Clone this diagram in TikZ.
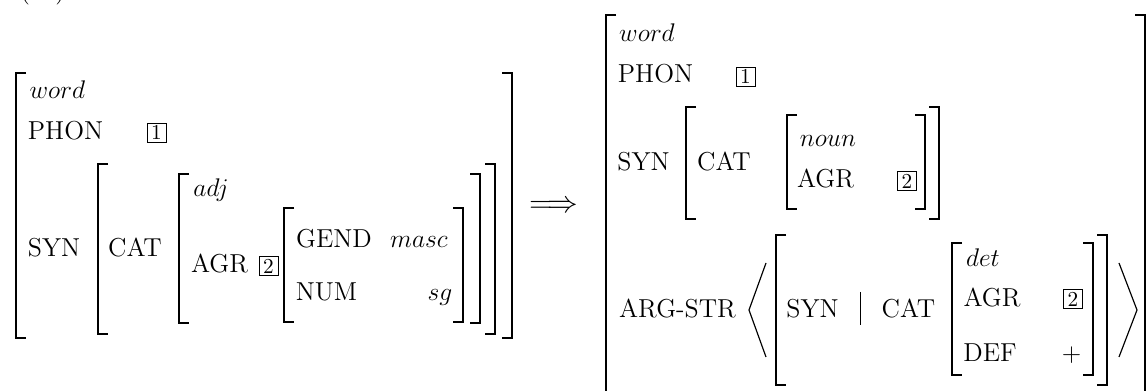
\documentclass[tikz,border=0pt]{standalone}
\usepackage{fontspec}
\usepackage{tikz}
\tikzset{
  t/.style={inner sep=0pt, outer sep=0pt, anchor=base, font=\fontsize{12.2}{14}\selectfont},
  ti/.style={t, font=\fontsize{12.8}{15}\selectfont},
  tag/.style={draw, line width=0.4pt, minimum width=8.9pt, minimum height=8.9pt, inner sep=0pt, font=\fontsize{10}{12}\selectfont},
  brk/.style={line width=0.8pt, line join=miter, line cap=butt},
  ang/.style={line width=0.55pt, line join=miter},
}
\newcommand\avmL[3]{\draw[brk] ({#1+10},#2) -- (#1,#2) -- (#1,#3) -- ({#1+10},#3);}
\newcommand\avmR[3]{\draw[brk] ({#1-10},#2) -- (#1,#2) -- (#1,#3) -- ({#1-10},#3);}
\begin{document}
\begin{tikzpicture}[x=0.47pt, y=-0.47pt]
\useasboundingbox (0,0) rectangle (1146,391);
\clip (0,0) rectangle (1146,391);
% example number (cut off at top)
\node[t, anchor=base west] (exnum) at (20,-1) {(\hphantom{00})};
% ---------------- left AVM ----------------
\avmL{16}{73}{338}
\avmR{512}{73}{338}
\node[ti] (lword) at (57.5,99) {$word$};
\node[t] (lphon) at (65.5,140) {PHON};
\node[tag] (ltag1) at (156.5,132.5) {1};
\node[t] (lsyn) at (54,257) {SYN};
\avmL{98}{164}{334}
\avmR{495}{164}{334}
\node[t] (lcat) at (135,257) {CAT};
\avmL{179}{174}{323}
\avmR{480}{174}{323}
\node[ti] (ladj) at (211,197) {$adj$};
\node[t] (lagr) at (219.5,273) {AGR};
\node[tag] (ltag2) at (268.5,266) {2};
\avmL{284}{208}{322}
\avmR{463}{208}{322}
\node[t] (lgend) at (334,248) {GEND};
\node[ti] (lmasc) at (419,248) {$masc$};
\node[t] (lnum) at (326.5,301) {NUM};
\node[ti] (lsg) at (440,301) {$sg$};
% ---------------- arrow ----------------
\node[t, anchor=base, font=\fontsize{13.8}{16}\selectfont] (arrow) at (553.5,213) {$\Longrightarrow$};
% ---------------- right AVM ----------------
\avmL{606}{15}{420}
\avmR{1145}{15}{420}
\node[ti] (rword) at (647,42) {$word$};
\node[t] (rphon) at (655.5,83) {PHON};
\node[tag] (rtag1) at (745.5,76.5) {1};
\node[t] (rsyn) at (643.5,171) {SYN};
\avmL{686}{107}{219}
\avmR{939}{107}{219}
\node[t] (rcat) at (724,171) {CAT};
\avmL{787}{115}{209}
\avmR{925}{115}{209}
\node[ti] (rnoun) at (828,147) {$noun$};
\node[t] (ragr) at (825.5,188) {AGR};
\node[tag] (rtag2) at (907,181) {2};
\node[t] (rarg) at (677.5,318) {ARG-STR};
\draw[ang] (766,263) -- (749,310) -- (766,357);
\avmL{776}{235}{385}
\avmR{1107}{235}{385}
\node[t] (asyn) at (812.5,318) {SYN};
\draw[line width=0.45pt] (860,292) -- (860,325);
\node[t] (acat) at (908.5,318) {CAT};
\avmL{952}{243}{375}
\avmR{1093}{243}{375}
\node[ti] (adet) at (983,267) {$det$};
\node[t] (aagr) at (992,307) {AGR};
\node[tag] (atag2) at (1073,299) {2};
\node[t] (adef) at (990,362) {DEF};
\node[t] (aplus) at (1071.5,362) {$+$};
\draw[ang] (1119,263) -- (1137,310) -- (1119,357);
\end{tikzpicture}
\end{document}
